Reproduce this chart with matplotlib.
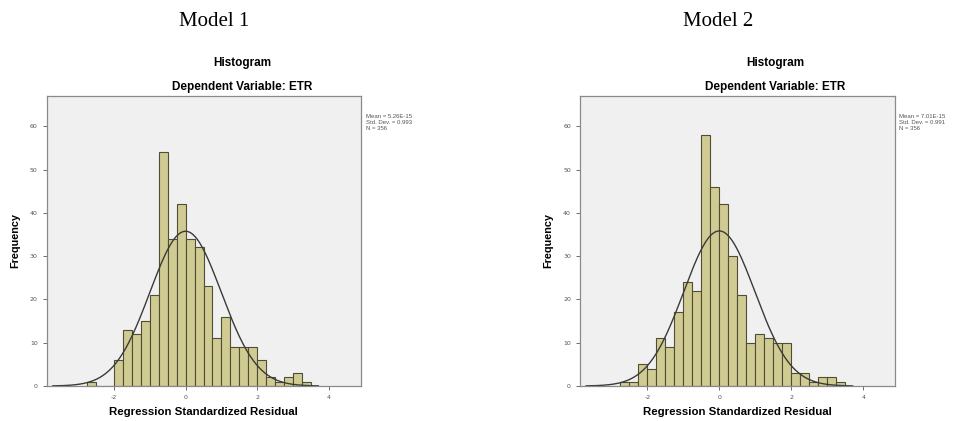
import numpy as np
import matplotlib
matplotlib.use('Agg')
import matplotlib.pyplot as plt

plt.rcParams['axes.unicode_minus'] = False

# histogram bins (width 0.25) starting at -2.75
bin_start = -2.75
bin_width = 0.25
counts_m1 = [1, 0, 0, 6, 13, 12, 15, 21, 54, 34, 42, 34, 32, 23, 11, 16, 9, 9, 9, 6, 2, 1, 2, 3, 1]
counts_m2 = [1, 1, 5, 4, 11, 9, 17, 24, 22, 58, 46, 42, 30, 21, 10, 12, 11, 10, 10, 3, 3, 1, 2, 2, 1]

models = ['Model 1', 'Model 2']
means = [5.26e-15, 7.01e-15]
sds = [0.993, 0.991]
n_obs = [356, 356]
mean_labels = ['5.26E-15', '7.01E-15']

x_ticks = [-2, 0, 2, 4]
y_ticks = [0, 10, 20, 30, 40, 50, 60]

bar_fill = '#d0cb92'
bar_edge = '#4f4d35'
bg = '#f0f0f0'

fig = plt.figure(figsize=(9.62, 4.21), dpi=100)
fig.patch.set_facecolor('white')

# left positions (px) of the two plot frames
frames = [(46.7, 314), (580, 315)]
title_cx = [242, 775]
model_cx = [214, 718]
legend_x = [366, 899]

W, H = 962, 421
for i, counts in enumerate([counts_m1, counts_m2]):
    left, width = frames[i]
    ax = fig.add_axes([left / W, (H - 386) / H, width / W, 290 / H])
    ax.set_facecolor(bg)
    edges = bin_start + bin_width * np.arange(len(counts))
    ax.bar(edges, counts, width=bin_width, align='edge', color=bar_fill,
           edgecolor=bar_edge, linewidth=0.8)

    # normal curve from the reported statistics
    xs = np.linspace(-3.7, 3.7, 300)
    ys = n_obs[i] * bin_width / (sds[i] * np.sqrt(2 * np.pi)) * np.exp(-0.5 * ((xs - means[i]) / sds[i]) ** 2)
    ax.plot(xs, ys, color='#3a3a3a', linewidth=1.0)

    ax.set_xlim(-3.87, 4.88)
    ax.set_ylim(0, 67)
    ax.set_xticks(x_ticks)
    ax.set_yticks(y_ticks)
    ax.tick_params(labelsize=4.5, colors='#555555', length=3, width=0.6)
    for s in ax.spines.values():
        s.set_color('#8a8a8a')
        s.set_linewidth(0.9)
    ax.set_xlabel('Regression Standardized Residual', fontsize=8.2, fontweight='bold',
                  family='Liberation Sans', labelpad=5)
    ax.set_ylabel('Frequency', fontsize=7.8, fontweight='bold', family='Liberation Sans', labelpad=7)

    fig.text(model_cx[i] / W, 1 - 22 / H, models[i], ha='center', va='center',
             fontsize=15, family='Liberation Serif')
    fig.text(title_cx[i] / W, 1 - 63 / H, 'Histogram', ha='center', va='center',
             fontsize=8.5, fontweight='bold', family='Liberation Sans')
    fig.text(title_cx[i] / W, 1 - 87 / H, 'Dependent Variable: ETR', ha='center', va='center',
             fontsize=8.5, fontweight='bold', family='Liberation Sans')
    stats = 'Mean = %s\nStd. Dev. = %.3f\nN = %d' % (mean_labels[i], sds[i], n_obs[i])
    fig.text(legend_x[i] / W, 1 - 114 / H, stats, ha='left', va='top', fontsize=4.3,
             color='#555555', family='Liberation Sans', linespacing=1.3)

fig.savefig('out.png', dpi=100)
